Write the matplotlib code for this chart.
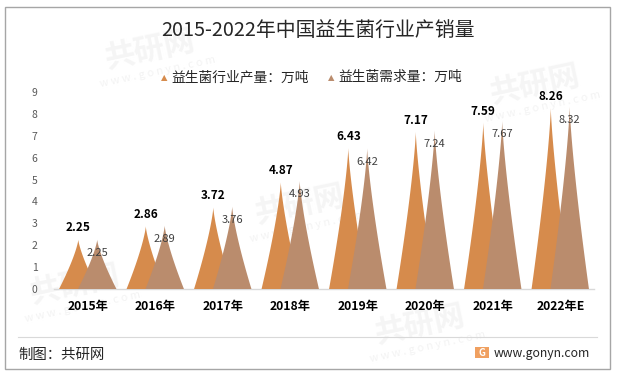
import matplotlib
matplotlib.use("Agg")
import matplotlib.pyplot as plt
from matplotlib.patches import Polygon, Rectangle
import numpy as np

plt.rcParams["font.family"] = ["Noto Sans CJK SC", "DejaVu Sans"]

# data
years = ["2015年", "2016年", "2017年", "2018年", "2019年", "2020年", "2021年", "2022年E"]
production = [2.25, 2.86, 3.72, 4.87, 6.43, 7.17, 7.59, 8.26]
demand = [2.25, 2.89, 3.76, 4.93, 6.42, 7.24, 7.67, 8.32]
series_names = ["益生菌行业产量：万吨", "益生菌需求量：万吨"]
colors = ["#D68B4C", "#BA8C6D"]


def peak(ax, cx, h, w, color):
    # spiky bar: half width shrinks as (1 - t)^1.3 towards the tip
    t = np.linspace(0, 1, 60)
    half = w * (1 - t) ** 1.3
    xs = np.concatenate([cx - half, (cx + half)[::-1]])
    ys = np.concatenate([t * h, (t * h)[::-1]])
    ax.add_patch(Polygon(np.column_stack([xs, ys]), closed=True,
                         facecolor=color, edgecolor="none", zorder=3))


fig = plt.figure(figsize=(6.17, 3.76), dpi=100)
W, H = 617, 376

# outer frame and footer separator
fig.add_artist(Rectangle((5 / W, 1 - 369 / H), 605 / W, 362 / H,
                         transform=fig.transFigure, fill=False,
                         edgecolor="#A6A6A6", lw=1))
fig.add_artist(plt.Line2D([18 / W, 597 / W], [1 - 337 / H, 1 - 337 / H],
                          transform=fig.transFigure, color="#D9D9D9", lw=0.8))

# faint watermarks
for (x, y) in [(150, 50), (300, 205), (535, 85), (420, 325), (75, 285)]:
    fig.text(x / W, 1 - y / H, "共研网", fontsize=22, fontweight="bold",
             color="#F5F5F5", rotation=12, ha="center", va="center", zorder=-1)
    fig.text((x + 8) / W, 1 - (y + 22) / H, "w w w . g o n y n . c o m",
             fontsize=8, color="#F3F3F3", rotation=12, ha="center",
             va="center", zorder=-1)

ax = fig.add_axes([54 / W, 1 - 289 / H, 540 / W, 197 / H])
ax.set_facecolor("none")

x = np.arange(len(years))
off, hw = 0.14, 0.285
for i in x:
    peak(ax, i - off, production[i], hw, colors[0])
for i in x:
    peak(ax, i + off, demand[i], hw, colors[1])

for i in x:
    ax.annotate(f"{production[i]:.2f}", (i - off, production[i]),
                xytext=(0, 8.5), textcoords="offset points",
                ha="center", va="center", fontsize=8.5, fontweight="bold",
                color="#000000", zorder=5, annotation_clip=False)
    ax.annotate(f"{demand[i]:.2f}", (i + off, demand[i]),
                xytext=(0, -9.5), textcoords="offset points",
                ha="center", va="center", fontsize=8,
                color="#404040", zorder=5, annotation_clip=False)

ax.set_xlim(-0.5, len(years) - 0.5)
ax.set_ylim(0, 9)
ax.set_yticks(range(0, 10))
ax.set_xticks(x)
ax.set_xticklabels(years, fontsize=8.8, fontweight="bold", color="#000000")
ax.tick_params(axis="y", length=0, pad=12, labelsize=7.5, labelcolor="#595959")
ax.tick_params(axis="x", length=0, pad=8)
for s in ["top", "right", "left"]:
    ax.spines[s].set_visible(False)
ax.spines["bottom"].set_color("#D9D9D9")
ax.spines["bottom"].set_linewidth(1)

# title and legend
fig.text(318 / W, 1 - 31 / H, "2015-2022年中国益生菌行业产销量",
         fontsize=14.3, color="#262626", ha="center", va="center")
fig.text(164 / W, 1 - 78 / H, "▲", fontsize=6, color=colors[0],
         ha="center", va="center", family=["DejaVu Sans"])
fig.text(171 / W, 1 - 77 / H, series_names[0], fontsize=9.9, color="#262626",
         ha="left", va="center")
fig.text(331 / W, 1 - 78 / H, "▲", fontsize=6, color=colors[1],
         ha="center", va="center", family=["DejaVu Sans"])
fig.text(338 / W, 1 - 77 / H, series_names[1], fontsize=9.9, color="#262626",
         ha="left", va="center")

# footer
fig.text(18 / W, 1 - 355 / H, "制图：共研网", fontsize=10.4, color="#262626",
         ha="left", va="center")
fig.add_artist(Rectangle((475 / W, 1 - 358 / H), 14 / W, 11 / H,
                         transform=fig.transFigure, facecolor="#F0A060",
                         edgecolor="none"))
fig.text(482 / W, 1 - 352.5 / H, "G", fontsize=7, fontweight="bold",
         color="white", ha="center", va="center")
fig.text(494 / W, 1 - 354 / H, "www.gonyn.com", fontsize=8.8, color="#262626",
         ha="left", va="center")

fig.savefig("out.png", dpi=100)
